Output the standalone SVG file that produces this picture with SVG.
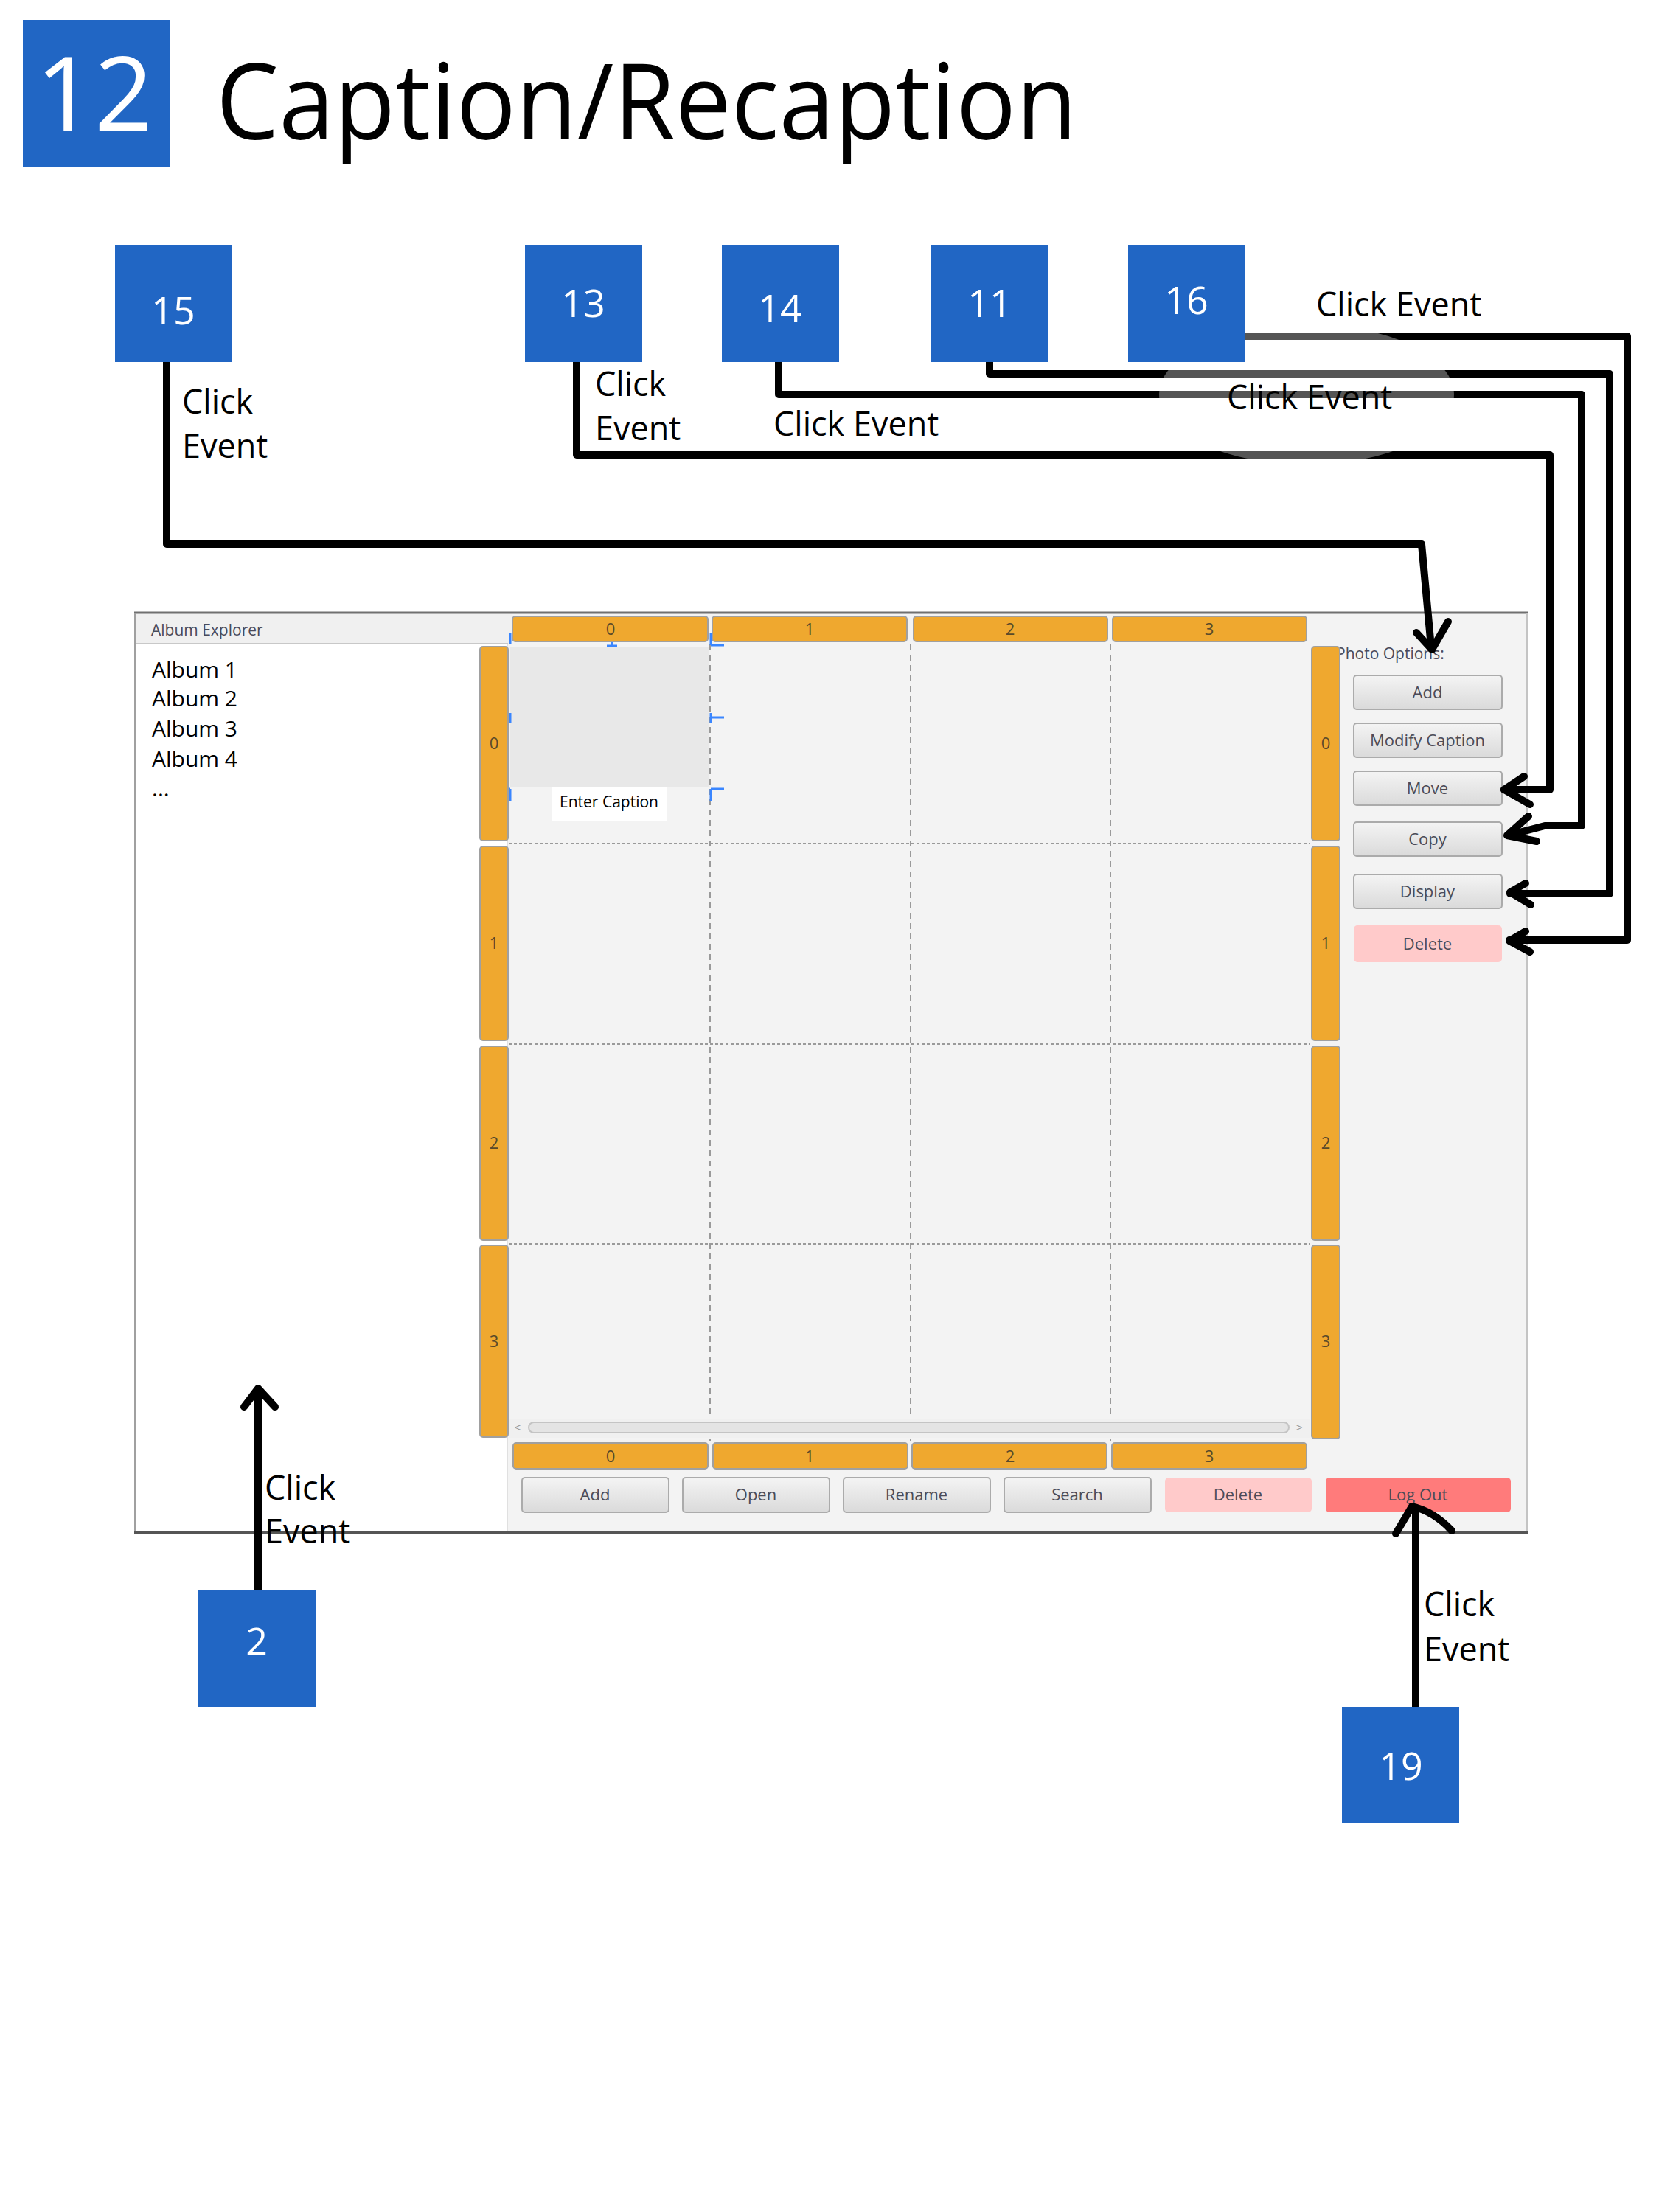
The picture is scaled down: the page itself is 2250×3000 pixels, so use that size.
<svg xmlns="http://www.w3.org/2000/svg" width="2250" height="3000" viewBox="0 0 2250 3000">
<defs>
<linearGradient id="btnG" x1="0" y1="0" x2="0" y2="1">
<stop offset="0" stop-color="#f4f4f4"/><stop offset="1" stop-color="#dadada"/>
</linearGradient>
<clipPath id="glow"><ellipse cx="1772" cy="535" rx="200" ry="95"/></clipPath>
</defs>
<style>
text{font-family:"Open Sans","Noto Sans","DejaVu Sans",sans-serif}
.box{fill:#2166c4}
.num{fill:#fff;font-size:52px;text-anchor:middle}
.lbl{fill:#000;font-size:45px}
.conn{fill:none;stroke:#000;stroke-width:10;stroke-linejoin:round;stroke-linecap:round}
.gray{stroke:#555}
.hdr{fill:#efa82f;stroke:#a0a0a0;stroke-width:2}
.hdrt{fill:#5a4a2a;font-size:22px;text-anchor:middle}
.btn{fill:url(#btnG);stroke:#ababab;stroke-width:2}
.btnt{fill:#4b4b57;font-size:22px;text-anchor:middle}
.dv{stroke:#9a9a9a;stroke-width:2;stroke-dasharray:8 6;fill:none}
.dh{stroke:#9a9a9a;stroke-width:2;stroke-dasharray:4 3;fill:none}
.sel{stroke:#3a86ff;stroke-width:3;fill:none}
.alb{fill:#000;font-size:30px}
</style>

<g id="node-12">
<rect class="box" x="31" y="27" width="199" height="199"/>
<text x="128" y="177" fill="#fff" font-size="139" text-anchor="middle">12</text>
<text x="293" y="189" fill="#000" font-size="142" textLength="1168" lengthAdjust="spacingAndGlyphs">Caption/Recaption</text>
</g>

<g id="screen">
<rect x="182" y="831" width="1890" height="1249" fill="#f3f3f3"/>
<rect x="183" y="832" width="512" height="41" fill="#f0f0f0"/>
<line x1="183" y1="873" x2="689" y2="873" stroke="#c8c8c8" stroke-width="2"/>
<text x="205" y="862" font-size="21" fill="#4a4a5a">Album Explorer</text>
<rect x="183" y="874" width="505" height="1203" fill="#fff"/>
<line x1="688" y1="874" x2="688" y2="2077" stroke="#e0e0e0" stroke-width="2"/>
<text class="alb" x="206" y="919">Album 1</text>
<text class="alb" x="206" y="958">Album 2</text>
<text class="alb" x="206" y="999">Album 3</text>
<text class="alb" x="206" y="1040">Album 4</text>
<text class="alb" x="206" y="1080" font-size="24">...</text>
<line x1="182" y1="831" x2="2072" y2="831" stroke="#707070" stroke-width="3"/>
<line x1="183" y1="831" x2="183" y2="2079" stroke="#a0a0a0" stroke-width="2"/>
<line x1="2071" y1="831" x2="2071" y2="2079" stroke="#c4c4c4" stroke-width="2"/>
<line x1="182" y1="2079" x2="2072" y2="2079" stroke="#555" stroke-width="4"/>

<rect x="692" y="877" width="270" height="191" fill="#e8e8e8"/>
<rect x="749" y="1068" width="155" height="45" fill="#fff"/>
<text x="826" y="1095" font-size="21" fill="#000" text-anchor="middle">Enter Caption</text>

<path class="dv" d="M963 874V1955M1235 874V1955M1506 874V1955"/>
<path class="dh" d="M690 1144H1777M690 1416H1777M690 1687H1777"/>

<path class="sel" d="M692 859V873M830 858V876M823 876H837M674 973H692M692 967V980M674 1070H692M692 1070V1087M964 859V875M964 875H982M964 973H982M964 967V980M964 1070H982M964 1070V1087"/>

<rect x="690" y="1924" width="1087" height="26" fill="#f0f0f0"/>
<rect x="717" y="1929" width="1031" height="14" rx="7" fill="#e4e4e4" stroke="#c4c4c4" stroke-width="2"/>
<text x="702" y="1942" font-size="16" fill="#999" text-anchor="middle">&lt;</text>
<text x="1762" y="1942" font-size="16" fill="#999" text-anchor="middle">&gt;</text>

<rect class="hdr" x="695" y="836" width="265" height="34" rx="4"/>
<rect class="hdr" x="966" y="836" width="264" height="34" rx="4"/>
<rect class="hdr" x="1239" y="836" width="263" height="34" rx="4"/>
<rect class="hdr" x="1509" y="836" width="263" height="34" rx="4"/>
<text class="hdrt" x="828" y="861">0</text>
<text class="hdrt" x="1098" y="861">1</text>
<text class="hdrt" x="1370" y="861">2</text>
<text class="hdrt" x="1640" y="861">3</text>

<rect class="hdr" x="696" y="1957" width="264" height="35" rx="4"/>
<rect class="hdr" x="967" y="1957" width="264" height="35" rx="4"/>
<rect class="hdr" x="1237" y="1957" width="264" height="35" rx="4"/>
<rect class="hdr" x="1508" y="1957" width="264" height="35" rx="4"/>
<text class="hdrt" x="828" y="1983">0</text>
<text class="hdrt" x="1098" y="1983">1</text>
<text class="hdrt" x="1370" y="1983">2</text>
<text class="hdrt" x="1640" y="1983">3</text>

<text x="1812" y="894" font-size="21" fill="#4a4a5a">Photo Options:</text>

<rect class="hdr" x="651" y="877" width="38" height="263" rx="4"/>
<rect class="hdr" x="651" y="1148" width="38" height="263" rx="4"/>
<rect class="hdr" x="651" y="1419" width="38" height="263" rx="4"/>
<rect class="hdr" x="651" y="1689" width="38" height="260" rx="4"/>
<rect class="hdr" x="1779" y="877" width="38" height="263" rx="4"/>
<rect class="hdr" x="1779" y="1148" width="38" height="263" rx="4"/>
<rect class="hdr" x="1779" y="1419" width="38" height="263" rx="4"/>
<rect class="hdr" x="1779" y="1689" width="38" height="262" rx="4"/>
<text class="hdrt" x="670" y="1016">0</text>
<text class="hdrt" x="670" y="1287">1</text>
<text class="hdrt" x="670" y="1558">2</text>
<text class="hdrt" x="670" y="1827">3</text>
<text class="hdrt" x="1798" y="1016">0</text>
<text class="hdrt" x="1798" y="1287">1</text>
<text class="hdrt" x="1798" y="1558">2</text>
<text class="hdrt" x="1798" y="1827">3</text>

<rect class="btn" x="1836" y="916" width="201" height="46" rx="4"/>
<rect class="btn" x="1836" y="981" width="201" height="46" rx="4"/>
<rect class="btn" x="1836" y="1046" width="201" height="46" rx="4"/>
<rect class="btn" x="1836" y="1115" width="201" height="46" rx="4"/>
<rect class="btn" x="1836" y="1186" width="201" height="46" rx="4"/>
<rect x="1836" y="1255" width="201" height="50" rx="5" fill="#ffcaca"/>
<text class="btnt" x="1936" y="947">Add</text>
<text class="btnt" x="1936" y="1012">Modify Caption</text>
<text class="btnt" x="1936" y="1077">Move</text>
<text class="btnt" x="1936" y="1146">Copy</text>
<text class="btnt" x="1936" y="1217">Display</text>
<text class="btnt" x="1936" y="1288">Delete</text>

<rect class="btn" x="708" y="2004" width="199" height="47" rx="4"/>
<rect class="btn" x="926" y="2004" width="199" height="47" rx="4"/>
<rect class="btn" x="1144" y="2004" width="199" height="47" rx="4"/>
<rect class="btn" x="1362" y="2004" width="199" height="47" rx="4"/>
<rect x="1580" y="2004" width="199" height="47" rx="5" fill="#ffcaca"/>
<rect x="1798" y="2004" width="251" height="47" rx="5" fill="#ff7b7b"/>
<text class="btnt" x="807" y="2035">Add</text>
<text class="btnt" x="1025" y="2035">Open</text>
<text class="btnt" x="1243" y="2035">Rename</text>
<text class="btnt" x="1461" y="2035">Search</text>
<text class="btnt" x="1679" y="2035">Delete</text>
<text class="btnt" x="1923" y="2035">Log Out</text>
</g>

<g id="connectors">
<path class="conn" d="M226 491V738H1928L1941 878"/>
<path class="conn" d="M1921 858L1942 881L1964 843"/>
<path class="conn" d="M782 491V617H2102V1071H2040"/>
<path class="conn" d="M2067 1053L2040 1071L2075 1091"/>
<path class="conn" d="M1056 491V535H2145V1120H2095L2045 1133"/>
<path class="conn" d="M2073 1107L2044 1133L2084 1141"/>
<path class="conn" d="M1342 491V507H2183V1212H2048"/>
<path class="conn" d="M2069 1198L2048 1210L2076 1227"/>
<path class="conn" d="M1688 456H2207V1275H2047"/>
<path class="conn" d="M2069 1263L2047 1276L2075 1291"/>
<path class="conn" d="M350 2156V1886"/>
<path class="conn" d="M331 1908L350 1883L373 1908"/>
<path class="conn" d="M1920 2315V2046"/>
<path class="conn" d="M1893 2080L1915 2043Q1945 2050 1969 2076"/>
<g clip-path="url(#glow)">
<path class="conn gray" d="M1580 456H1960M1560 507H1980M1560 535H1980M1560 617H1980"/>
</g>
</g>

<g id="node-15">
<rect class="box" x="156" y="332" width="158" height="159"/>
<text class="num" x="235" y="440">15</text>
<text class="lbl" x="247" y="561">Click</text>
<text class="lbl" x="247" y="621">Event</text>
</g>
<g id="node-13">
<rect class="box" x="712" y="332" width="159" height="159"/>
<text class="num" x="791" y="430">13</text>
<text class="lbl" x="807" y="537">Click</text>
<text class="lbl" x="807" y="597">Event</text>
</g>
<g id="node-14">
<rect class="box" x="979" y="332" width="159" height="159"/>
<text class="num" x="1058" y="437">14</text>
<text class="lbl" x="1049" y="591">Click Event</text>
</g>
<g id="node-11">
<rect class="box" x="1263" y="332" width="159" height="159"/>
<text class="num" x="1342" y="430">11</text>
<text class="lbl" x="1664" y="555">Click Event</text>
</g>
<g id="node-16">
<rect class="box" x="1530" y="332" width="158" height="159"/>
<text class="num" x="1609" y="426">16</text>
<text class="lbl" x="1785" y="429">Click Event</text>
</g>
<g id="node-2">
<rect class="box" x="269" y="2156" width="159" height="159"/>
<text class="num" x="348" y="2245">2</text>
<text class="lbl" x="359" y="2034">Click</text>
<text class="lbl" x="359" y="2093">Event</text>
</g>
<g id="node-19">
<rect class="box" x="1820" y="2315" width="159" height="158"/>
<text class="num" x="1900" y="2414">19</text>
<text class="lbl" x="1931" y="2192">Click</text>
<text class="lbl" x="1931" y="2253">Event</text>
</g>
</svg>
